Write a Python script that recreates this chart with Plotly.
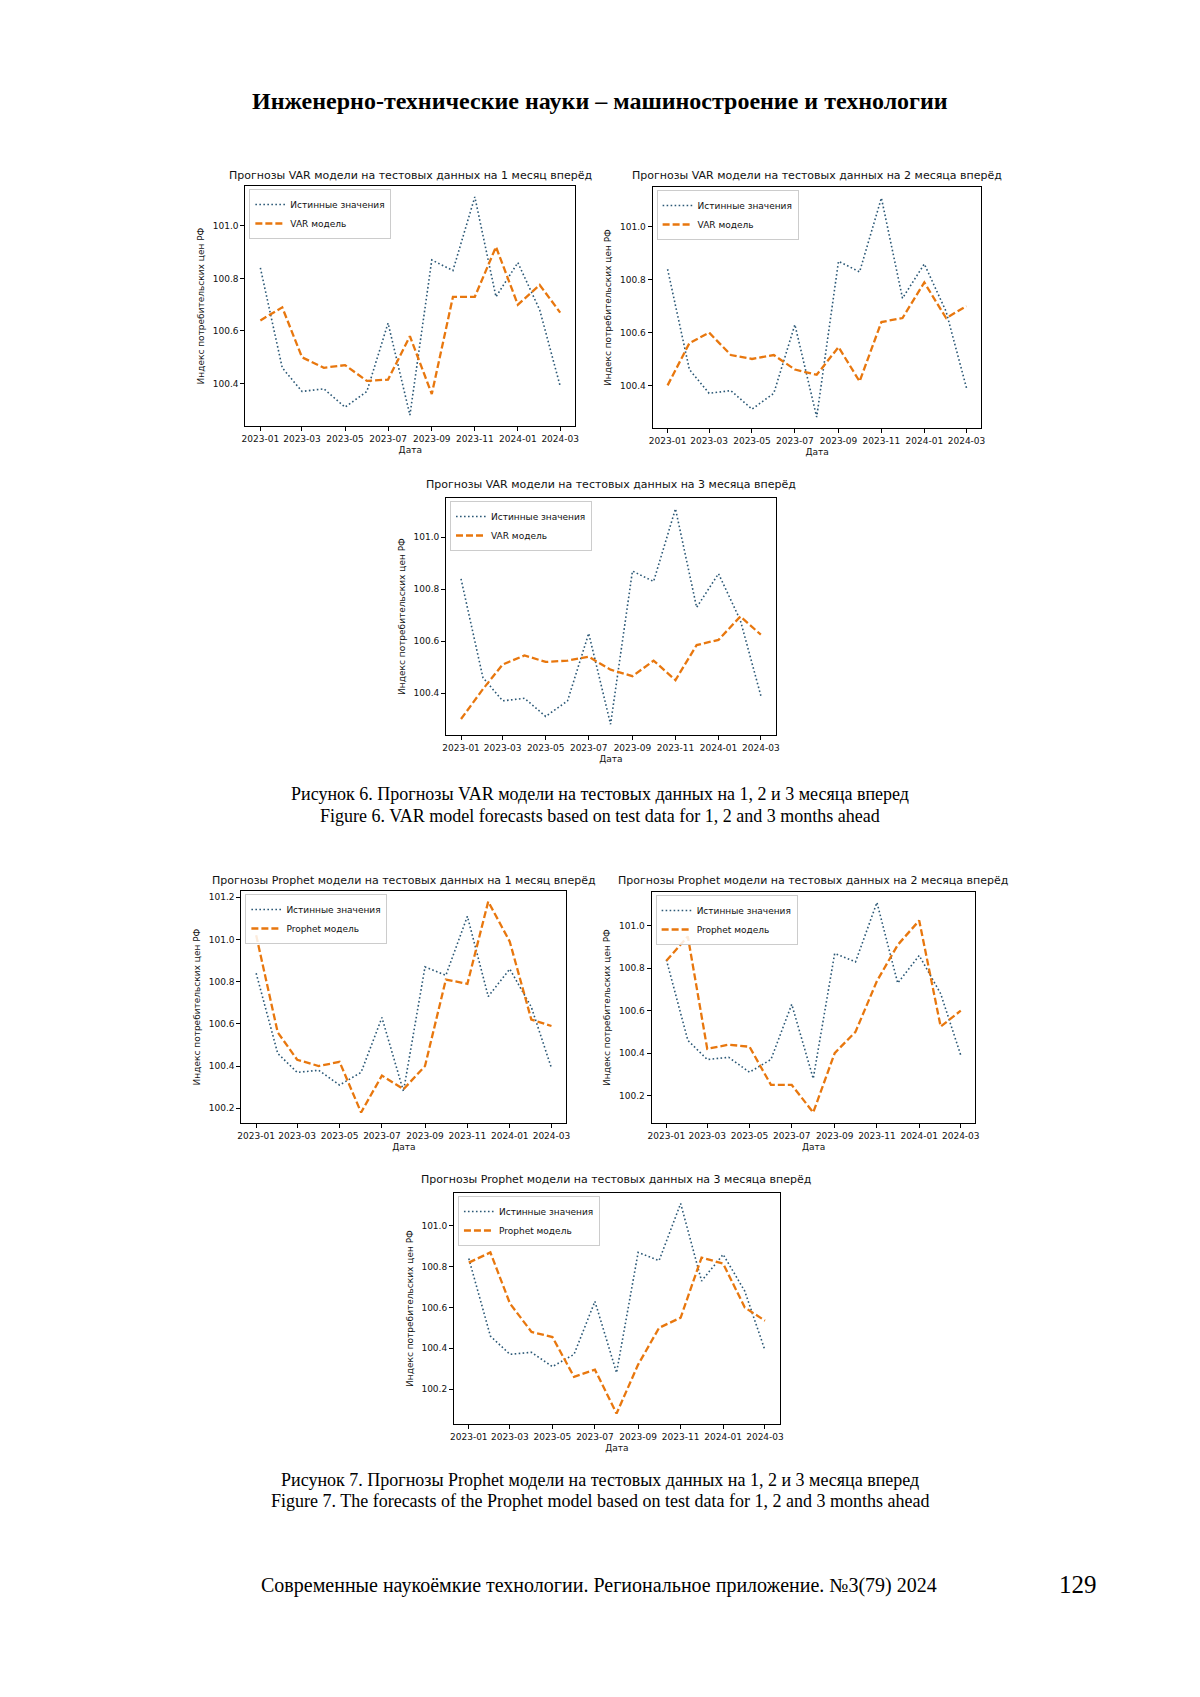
import plotly.graph_objects as go

W, H = 1200, 1697

dates = ["2023-01-01", "2023-02-01", "2023-03-01", "2023-04-01", "2023-05-01",
         "2023-06-01", "2023-07-01", "2023-08-01", "2023-09-01", "2023-10-01",
         "2023-11-01", "2023-12-01", "2024-01-01", "2024-02-01", "2024-03-01"]

true_values = [100.84, 100.46, 100.37, 100.38, 100.31, 100.37, 100.63, 100.28,
               100.87, 100.83, 101.11, 100.73, 100.86, 100.68, 100.39]

var_1m = [100.64, 100.69, 100.50, 100.46, 100.47, 100.41, 100.415, 100.58,
          100.36, 100.73, 100.73, 100.92, 100.70, 100.775, 100.67]
var_2m = [100.40, 100.56, 100.60, 100.515, 100.50, 100.515, 100.46, 100.44,
          100.545, 100.415, 100.64, 100.655, 100.79, 100.655, 100.70]
var_3m = [100.30, 100.415, 100.51, 100.545, 100.52, 100.525, 100.54, 100.49,
          100.465, 100.525, 100.45, 100.585, 100.605, 100.695, 100.625]

prophet_1m = [101.02, 100.56, 100.43, 100.40, 100.42, 100.18, 100.355, 100.29,
              100.40, 100.81, 100.79, 101.18, 100.99, 100.62, 100.59]
prophet_2m = [100.835, 100.95, 100.42, 100.44, 100.43, 100.25, 100.25, 100.12,
              100.40, 100.50, 100.74, 100.91, 101.025, 100.525, 100.60]
prophet_3m = [100.82, 100.87, 100.62, 100.48, 100.455, 100.26, 100.295, 100.08,
              100.32, 100.50, 100.55, 100.845, 100.815, 100.60, 100.535]

titles = [
    "Прогнозы VAR модели на тестовых данных на 1 месяц вперёд",
    "Прогнозы VAR модели на тестовых данных на 2 месяца вперёд",
    "Прогнозы VAR модели на тестовых данных на 3 месяца вперёд",
    "Прогнозы Prophet модели на тестовых данных на 1 месяц вперёд",
    "Прогнозы Prophet модели на тестовых данных на 2 месяца вперёд",
    "Прогнозы Prophet модели на тестовых данных на 3 месяца вперёд",
]
model_names = ["VAR модель"] * 3 + ["Prophet модель"] * 3
true_label = "Истинные значения"
forecasts = [var_1m, var_2m, var_3m, prophet_1m, prophet_2m, prophet_3m]

# plot frames in pixels: left, right, top, bottom
frames = [
    (243, 575, 186, 426),
    (653, 984, 187, 428),
    (445, 777, 498, 735),
    (239, 566, 891, 1123),
    (652, 978, 892, 1123),
    (453, 781, 1193, 1424),
]
title_y = [175, 176, 484, 880, 880, 1179]

C_TRUE = "#2b5876"
C_FC = "#e8770e"
TXT = "#111111"
MPL_FONT = "DejaVu Sans"

fig = go.Figure()
annotations = []

for i, (fc, fr) in enumerate(zip(forecasts, frames)):
    k = "" if i == 0 else str(i + 1)
    leg = "legend" if i == 0 else "legend" + str(i + 1)
    xa, ya = "x" + k, "y" + k
    fig.add_trace(go.Scatter(x=dates, y=true_values, mode="lines", name=true_label,
                             line=dict(color=C_TRUE, width=1.6, dash="1.6px,2.4px"),
                             xaxis=xa, yaxis=ya, legend=leg))
    fig.add_trace(go.Scatter(x=dates, y=fc, mode="lines", name=model_names[i],
                             line=dict(color=C_FC, width=2.3, dash="7px,3px"),
                             xaxis=xa, yaxis=ya, legend=leg))
    l, r, t, b = fr
    lo = min(min(true_values), min(fc))
    hi = max(max(true_values), max(fc))
    pad = 0.05 * (hi - lo)
    axis_common = dict(showline=True, linecolor="black", linewidth=1, mirror=True,
                       ticks="outside", ticklen=4, tickwidth=1, tickcolor="black",
                       showgrid=False, zeroline=False,
                       tickfont=dict(family=MPL_FONT, size=9, color=TXT))
    fig.layout["xaxis" + k] = dict(
        domain=[l / W, r / W], anchor=ya, type="date",
        range=["2022-12-10 18:00", "2024-03-22 06:00"],
        tick0="2023-01-01", dtick="M2", tickformat="%Y-%m",
        title=dict(text="Дата", font=dict(family=MPL_FONT, size=9, color=TXT), standoff=3),
        **axis_common)
    fig.layout["yaxis" + k] = dict(
        domain=[1 - b / H, 1 - t / H], anchor=xa,
        range=[lo - pad, hi + pad], tick0=100.0, dtick=0.2, tickformat=".1f",
        title=dict(text="Индекс потребительских цен РФ",
                   font=dict(family=MPL_FONT, size=9, color=TXT), standoff=6),
        **axis_common)
    fig.layout[leg] = dict(x=(l + 4) / W, y=1 - (t + 3) / H, xanchor="left", yanchor="top",
                           bgcolor="rgba(255,255,255,0.85)", bordercolor="#cccccc", borderwidth=1,
                           font=dict(family=MPL_FONT, size=9, color=TXT),
                           tracegroupgap=0, itemwidth=30)
    annotations.append(dict(text=titles[i], x=(l + r) / 2 / W, y=1 - title_y[i] / H,
                            xref="paper", yref="paper", showarrow=False,
                            xanchor="center", yanchor="middle",
                            font=dict(family=MPL_FONT, size=11, color=TXT)))

SERIF = "Liberation Serif"
page_text = [
    ("<b>Инженерно-технические науки – машиностроение и технологии</b>", 600, 101, 24),
    ("Рисунок 6. Прогнозы VAR модели на тестовых данных на 1, 2 и 3 месяца вперед", 600, 794, 18),
    ("Figure 6. VAR model forecasts based on test data for 1, 2 and 3 months ahead", 600, 816, 18),
    ("Рисунок 7. Прогнозы Prophet модели на тестовых данных на 1, 2 и 3 месяца вперед", 600, 1480, 18),
    ("Figure 7. The forecasts of the Prophet model based on test data for 1, 2 and 3 months ahead", 600, 1501, 18),
    ("Современные наукоёмкие технологии. Региональное приложение. №3(79) 2024", 599, 1585, 20),
    ("129", 1081, 1584, 25),
]
for txt, px, py, fs in page_text:
    annotations.append(dict(text=txt, x=px / W, y=1 - py / H, xref="paper", yref="paper",
                            showarrow=False, xanchor="center", yanchor="middle",
                            font=dict(family=SERIF, size=fs, color="black")))

fig.update_layout(width=W, height=H, margin=dict(l=0, r=0, t=0, b=0),
                  paper_bgcolor="white", plot_bgcolor="white",
                  showlegend=True, annotations=annotations)

fig.write_html("out.html", config={"displayModeBar": False},
               post_script="document.body.style.margin='0';")
